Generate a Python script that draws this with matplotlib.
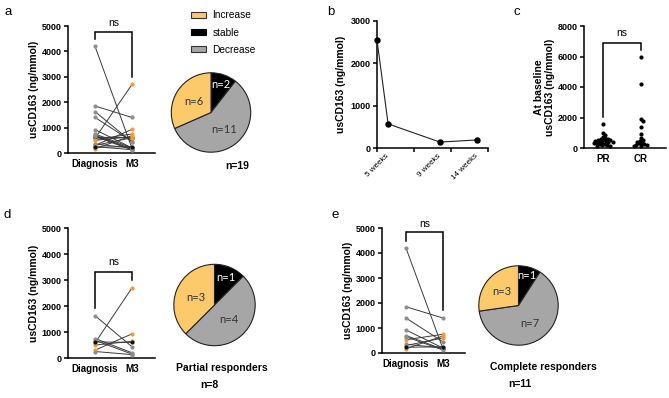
import numpy as np
import matplotlib
matplotlib.use("Agg")
import matplotlib.pyplot as plt
from matplotlib.patches import Patch

plt.rcParams['font.family'] = ['Liberation Sans', 'DejaVu Sans']

W, H = 669, 398

# Partial responders: usCD163 at diagnosis and at M3 (panel d)
pr_diag = [580, 300, 500, 1630, 750, 680, 250, 620]
pr_m3 = [2700, 930, 640, 430, 200, 150, 130, 600]
pr_group = ['inc', 'inc', 'inc', 'dec', 'dec', 'dec', 'dec', 'stable']

# Complete responders (panel e)
cr_diag = [530, 170, 300, 4200, 1850, 1400, 920, 700, 650, 350, 230]
cr_m3 = [750, 680, 600, 180, 1400, 450, 200, 150, 120, 200, 250]
cr_group = ['inc', 'inc', 'inc', 'dec', 'dec', 'dec', 'dec', 'dec', 'dec', 'dec', 'stable']

# pie counts: stable, decrease, increase
pie_all = [2, 11, 6]
pie_pr = [1, 4, 3]
pie_cr = [1, 7, 3]

# panel b: single patient follow-up
b_x = [0, 0.3, 1.7, 2.7]
b_y = [2550, 570, 140, 190]
b_labels = ['5 weeks', '9 weeks', '14 weeks']

# panel c: baseline values
c_pr = [1600, 1000, 880, 720, 650, 600, 580, 550, 520, 500, 480, 450, 430,
        400, 380, 350, 320, 300, 270, 240, 200, 170, 130, 100]
c_cr = [5950, 4200, 1900, 1800, 1350, 900, 650, 550, 480, 420, 350, 300,
        260, 220, 200, 160, 120]

ORANGE = '#F39B3A'
GRAY = '#8E8E8E'
YELLOW = '#FDCA6B'
PIEGRAY = '#A6A6A6'
group_col = {'inc': ORANGE, 'dec': GRAY, 'stable': '#111111'}


def box(x0, y0, x1, y1):
    return [x0 / W, 1 - y1 / H, (x1 - x0) / W, (y1 - y0) / H]


def style(ax):
    for s in ['top', 'right']:
        ax.spines[s].set_visible(False)
    for s in ['left', 'bottom']:
        ax.spines[s].set_linewidth(1.1)
    ax.tick_params(width=1.1, length=3, pad=1.5, labelsize=6.5)
    for t in ax.get_yticklabels() + ax.get_xticklabels():
        t.set_fontweight('bold')


def bracket(ax, x0, x1, yl, ytop, yr, yns):
    ax.plot([x0, x0, x1, x1], [yl, ytop, ytop, yr], color='black', lw=1.1,
            clip_on=False, solid_joinstyle='miter')
    ax.text((x0 + x1) / 2, yns, 'ns', ha='center', va='center', fontsize=7.5)


def paired(rect, diag, m3, groups, xl, xr, br):
    ax = fig.add_axes(rect)
    for d, m, g in zip(diag, m3, groups):
        ax.plot([0, 1], [d, m], color='#3a3a3a', lw=0.7, zorder=2)
        ax.scatter([0, 1], [d, m], s=9, color=group_col[g], zorder=3,
                   clip_on=False, linewidths=0)
    ax.set_xlim(xl, xr)
    ax.set_ylim(0, 5000)
    ax.set_yticks([0, 1000, 2000, 3000, 4000, 5000])
    ax.set_xticks([0, 1])
    ax.set_xticklabels(['Diagnosis', 'M3'])
    ax.set_ylabel('usCD163 (ng/mmol)', fontsize=7.5, fontweight='bold', labelpad=2)
    style(ax)
    ax.tick_params(axis='x', labelsize=7, length=0, pad=4)
    bracket(ax, 0, 1, *br)
    return ax


def pie(cx, cy, r, counts, dists):
    ax = fig.add_axes(box(cx - r, cy - r, cx + r, cy + r))
    cols = ['#000000', PIEGRAY, YELLOW]
    ax.pie(counts, colors=cols, startangle=90, counterclock=False,
           wedgeprops=dict(edgecolor='#222222', linewidth=0.8))
    total = sum(counts)
    ang = 90
    for n, c, d in zip(counts, cols, dists):
        mid = np.deg2rad(ang - n / total * 180)
        ang -= n / total * 360
        ax.text(d * np.cos(mid), d * np.sin(mid), f'n={n}', ha='center', va='center',
                fontsize=8, family=['Lato', 'DejaVu Sans'],
                color='white' if c == '#000000' else '#333333')
    ax.set_xlim(-1.02, 1.02)
    ax.set_ylim(-1.02, 1.02)
    ax.set_aspect('equal')
    return ax


def swarm(vals, scale_y, scale_x, diam=2.7):
    # simple deterministic beeswarm offsets (in data x units)
    placed = []
    offs = []
    cand = [0.0]
    for k in range(1, 80):
        cand += [k * 0.5, -k * 0.5]
    for v in vals:
        py = v * scale_y
        for c in cand:
            if all((c - ox) ** 2 + (py - oy) ** 2 >= diam ** 2 for ox, oy in placed):
                break
        placed.append((c, py))
        offs.append(c / scale_x)
    return np.array(offs)


fig = plt.figure(figsize=(W / 100, H / 100), dpi=100)

# panel a
paired(box(68, 26, 155, 153), pr_diag + cr_diag, pr_m3 + cr_m3, pr_group + cr_group,
       -0.73, 1.62, (4490, 4760, 3000, 5130))
pie(211, 112.5, 40.5, pie_all, [0.74, 0.55, 0.52])
handles = [Patch(facecolor=YELLOW, edgecolor='#333333', lw=0.8),
           Patch(facecolor='black', edgecolor='black', lw=0.8),
           Patch(facecolor=PIEGRAY, edgecolor='#333333', lw=0.8)]
fig.legend(handles, ['Increase', 'stable', 'Decrease'], loc='center left',
           bbox_to_anchor=(186 / W, 1 - 32.5 / H), frameon=False, fontsize=7.3,
           handlelength=1.5, handleheight=0.55, labelspacing=0.7, handletextpad=0.6,
           borderpad=0)
fig.text(237 / W, 1 - 166 / H, 'n=19', ha='center', va='center', fontsize=7.5,
         fontweight='bold')

# panel b
axb = fig.add_axes(box(377, 21, 488, 148))
axb.plot(b_x, b_y, color='#222222', lw=0.8, marker='o', ms=3.6, mfc='black',
         mec='black', clip_on=False, zorder=3)
axb.set_xlim(0, 3)
axb.set_ylim(0, 3000)
axb.set_yticks([0, 1000, 2000, 3000])
axb.set_xticks([0, 1, 2, 3])
axb.set_xticklabels([])
axb.set_xticks(b_x[1:], minor=True)
axb.set_xticklabels(b_labels, minor=True, rotation=45, ha='right', va='center',
                    rotation_mode='anchor', fontsize=5.8)
axb.set_ylabel('usCD163 (ng/mmol)', fontsize=7.5, fontweight='bold', labelpad=3)
style(axb)
axb.tick_params(axis='x', which='minor', length=0, pad=5)
for t in axb.get_xticklabels(minor=True):
    t.set_fontweight('normal')

# panel c
axc = fig.add_axes(box(584, 26, 666, 148))
sy, sx = 122 / 8000, 38
axc.scatter(0 + swarm(c_pr, sy, sx), c_pr, s=9, color='black', linewidths=0,
            clip_on=False, zorder=3)
axc.scatter(1 + swarm(c_cr, sy, sx), c_cr, s=9, color='black', linewidths=0,
            clip_on=False, zorder=3)
axc.set_xlim(-0.5, 1.66)
axc.set_ylim(0, 8000)
axc.set_yticks([0, 2000, 4000, 6000, 8000])
axc.set_xticks([0, 1])
axc.set_xticklabels(['PR', 'CR'])
axc.set_ylabel('At baseline\nusCD163 (ng/mmol)', fontsize=7.5, fontweight='bold',
               labelpad=2, linespacing=1.1)
style(axc)
axc.tick_params(axis='x', labelsize=7, length=0, pad=4)
bracket(axc, 0, 1, 2030, 6890, 6430, 7540)

# panel d
paired(box(68, 228, 155, 358), pr_diag, pr_m3, pr_group,
       -0.73, 1.62, (1920, 3320, 3000, 3700))
pie(214.5, 305, 41.5, pie_pr, [0.72, 0.5, 0.5])
fig.text(222 / W, 1 - 368 / H, 'Partial responders', ha='center', va='center',
         fontsize=7.5, fontweight='bold')
fig.text(209 / W, 1 - 385 / H, 'n=8', ha='center', va='center', fontsize=7.5,
         fontweight='bold')

# panel e
paired(box(382, 228, 465, 353), cr_diag, cr_m3, cr_group,
       -0.65, 1.6, (4500, 4840, 1720, 5160))
pie(518.5, 305.5, 40.5, pie_cr, [0.78, 0.55, 0.55])
fig.text(543 / W, 1 - 367 / H, 'Complete responders', ha='center', va='center',
         fontsize=7.5, fontweight='bold')
fig.text(520 / W, 1 - 384 / H, 'n=11', ha='center', va='center', fontsize=7.5,
         fontweight='bold')

# panel letters
for lab, x, y in [('a', 8, 12), ('b', 331, 12), ('c', 517, 12), ('d', 7, 215), ('e', 335, 215)]:
    fig.text(x / W, 1 - y / H, lab, ha='center', va='center', fontsize=9.5)

fig.savefig('out.png', dpi=100)
